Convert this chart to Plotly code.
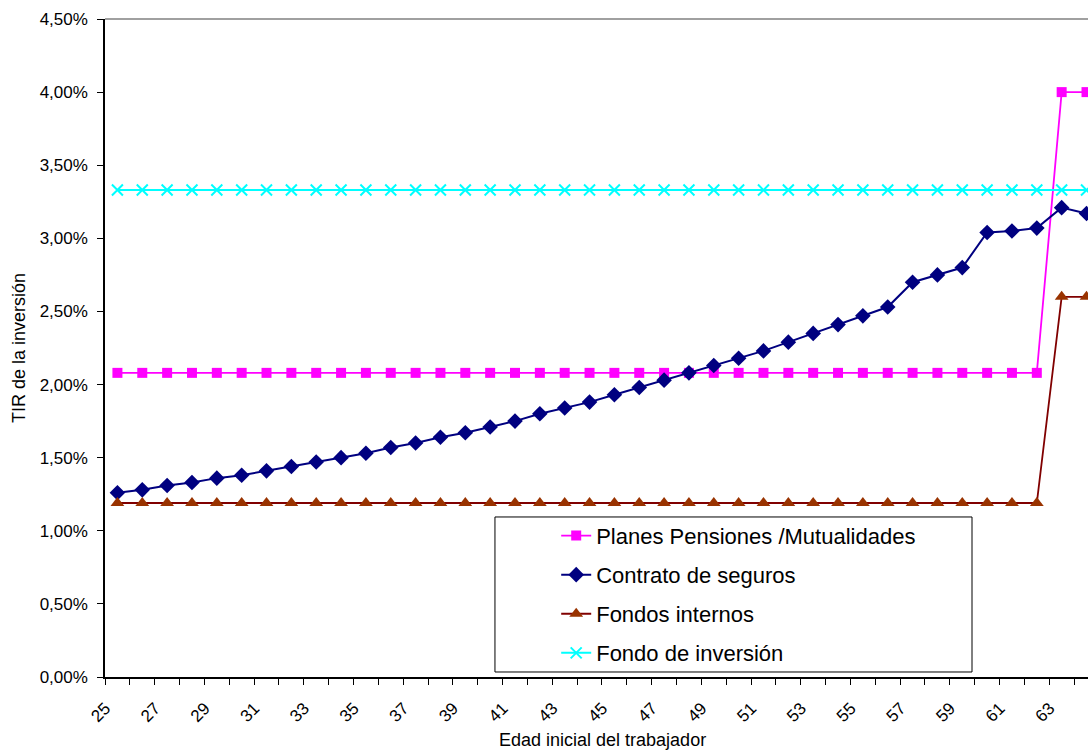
import plotly.graph_objects as go

# Edad inicial del trabajador (categorías del eje X)
edades = [25, 26, 27, 28, 29, 30, 31, 32, 33, 34, 35, 36, 37, 38, 39, 40, 41, 42, 43, 44,
          45, 46, 47, 48, 49, 50, 51, 52, 53, 54, 55, 56, 57, 58, 59, 60, 61, 62, 63, 64]

# TIR de la inversión (%) por producto
planes_pensiones = [2.08, 2.08, 2.08, 2.08, 2.08, 2.08, 2.08, 2.08, 2.08, 2.08,
                    2.08, 2.08, 2.08, 2.08, 2.08, 2.08, 2.08, 2.08, 2.08, 2.08,
                    2.08, 2.08, 2.08, 2.08, 2.08, 2.08, 2.08, 2.08, 2.08, 2.08,
                    2.08, 2.08, 2.08, 2.08, 2.08, 2.08, 2.08, 2.08, 4.00, 4.00]
contrato_seguros = [1.26, 1.28, 1.31, 1.33, 1.36, 1.38, 1.41, 1.44, 1.47, 1.50,
                    1.53, 1.57, 1.60, 1.64, 1.67, 1.71, 1.75, 1.80, 1.84, 1.88,
                    1.93, 1.98, 2.03, 2.08, 2.13, 2.18, 2.23, 2.29, 2.35, 2.41,
                    2.47, 2.53, 2.70, 2.75, 2.80, 3.04, 3.05, 3.07, 3.21, 3.17]
fondos_internos = [1.19, 1.19, 1.19, 1.19, 1.19, 1.19, 1.19, 1.19, 1.19, 1.19,
                   1.19, 1.19, 1.19, 1.19, 1.19, 1.19, 1.19, 1.19, 1.19, 1.19,
                   1.19, 1.19, 1.19, 1.19, 1.19, 1.19, 1.19, 1.19, 1.19, 1.19,
                   1.19, 1.19, 1.19, 1.19, 1.19, 1.19, 1.19, 1.19, 2.60, 2.60]
fondo_inversion = [3.33, 3.33, 3.33, 3.33, 3.33, 3.33, 3.33, 3.33, 3.33, 3.33,
                   3.33, 3.33, 3.33, 3.33, 3.33, 3.33, 3.33, 3.33, 3.33, 3.33,
                   3.33, 3.33, 3.33, 3.33, 3.33, 3.33, 3.33, 3.33, 3.33, 3.33,
                   3.33, 3.33, 3.33, 3.33, 3.33, 3.33, 3.33, 3.33, 3.33, 3.33]

series_nombres = ["Planes Pensiones /Mutualidades", "Contrato de seguros",
                  "Fondos internos", "Fondo de inversión"]

# Etiquetas del eje X: una de cada dos edades
etiquetas_x = edades[::2]
# Marcas del eje Y en %
marcas_y = [0.0, 0.5, 1.0, 1.5, 2.0, 2.5, 3.0, 3.5, 4.0, 4.5]
textos_y = [f"{v:.2f}".replace(".", ",") + "%" for v in marcas_y]

FONT = "Arial, Liberation Sans, sans-serif"

fig = go.Figure()

fig.add_trace(go.Scatter(
    x=edades, y=planes_pensiones, name=series_nombres[0], mode="lines+markers",
    line=dict(color="#FF00FF", width=1.8),
    marker=dict(symbol="square", size=10, color="#FF00FF"),
    legendgroup="g1"))
fig.add_trace(go.Scatter(
    x=edades, y=contrato_seguros, name=series_nombres[1], mode="lines+markers",
    line=dict(color="#000080", width=2),
    marker=dict(symbol="diamond", size=12, color="#000080"),
    legendgroup="g2"))
fig.add_trace(go.Scatter(
    x=edades, y=fondos_internos, name=series_nombres[2], mode="lines+markers",
    line=dict(color="#800000", width=1.8),
    marker=dict(symbol="triangle-up", size=12, color="#993300"),
    legendgroup="g3"))
fig.add_trace(go.Scatter(
    x=edades, y=fondo_inversion, name=series_nombres[3], mode="lines+markers",
    line=dict(color="#00FFFF", width=2),
    marker=dict(symbol="x-thin", size=11, line=dict(color="#00FFFF", width=2)),
    legendgroup="g4"))

# Límites de categoría para las marcas del eje X
limites = [e - 0.5 for e in edades]

fig.update_layout(
    width=1088, height=751,
    margin=dict(l=105, r=0, t=19, b=74, autoexpand=False),
    paper_bgcolor="white", plot_bgcolor="white",
    font=dict(family=FONT, size=17, color="black"),
    showlegend=True,
    legend=dict(
        x=0.459, y=0.2466, xanchor="left", yanchor="top",
        font=dict(family=FONT, size=22, color="black"),
        bgcolor="rgba(0,0,0,0)", borderwidth=0,
        tracegroupgap=7.5, traceorder="grouped",
    ),
    xaxis=dict(
        range=[24.5, 64.06],
        showgrid=False, zeroline=False,
        showline=True, linecolor="black", linewidth=1.5,
        tickvals=etiquetas_x, ticktext=[str(e) for e in etiquetas_x],
        ticks="", tickangle=-45, ticklabelshift=-12, ticklabelstandoff=13,
        tickfont=dict(family=FONT, size=17, color="black"),
        minor=dict(tickvals=limites, ticks="outside", ticklen=6,
                   tickcolor="black", tickwidth=1),
    ),
    yaxis=dict(
        range=[0, 4.5],
        showgrid=False, zeroline=False,
        showline=True, linecolor="black", linewidth=1.5,
        tickvals=marcas_y, ticktext=textos_y,
        ticks="outside", ticklen=6, tickcolor="black", ticklabelstandoff=6,
        tickfont=dict(family=FONT, size=17, color="black"),
        title=dict(text="TIR de la inversión",
                   font=dict(family=FONT, size=18, color="black"), standoff=9),
    ),
)

# Título del eje X
fig.add_annotation(text="Edad inicial del trabajador", xref="paper", yref="paper",
                   x=0.5066, y=-0.1125, xanchor="center", yanchor="bottom",
                   borderpad=0, showarrow=False,
                   font=dict(family=FONT, size=18, color="black"))

# Borde superior del área de trazado
fig.add_shape(type="line", xref="paper", yref="paper", x0=0, x1=1, y0=1, y1=1,
              line=dict(color="#808080", width=1.5))
# Marco de la leyenda
fig.add_shape(type="rect", xref="paper", yref="paper",
              x0=0.3967, x1=0.882, y0=0.0076, y1=0.2432,
              line=dict(color="black", width=1), fillcolor="white", layer="below")

fig.write_html("out.html")
